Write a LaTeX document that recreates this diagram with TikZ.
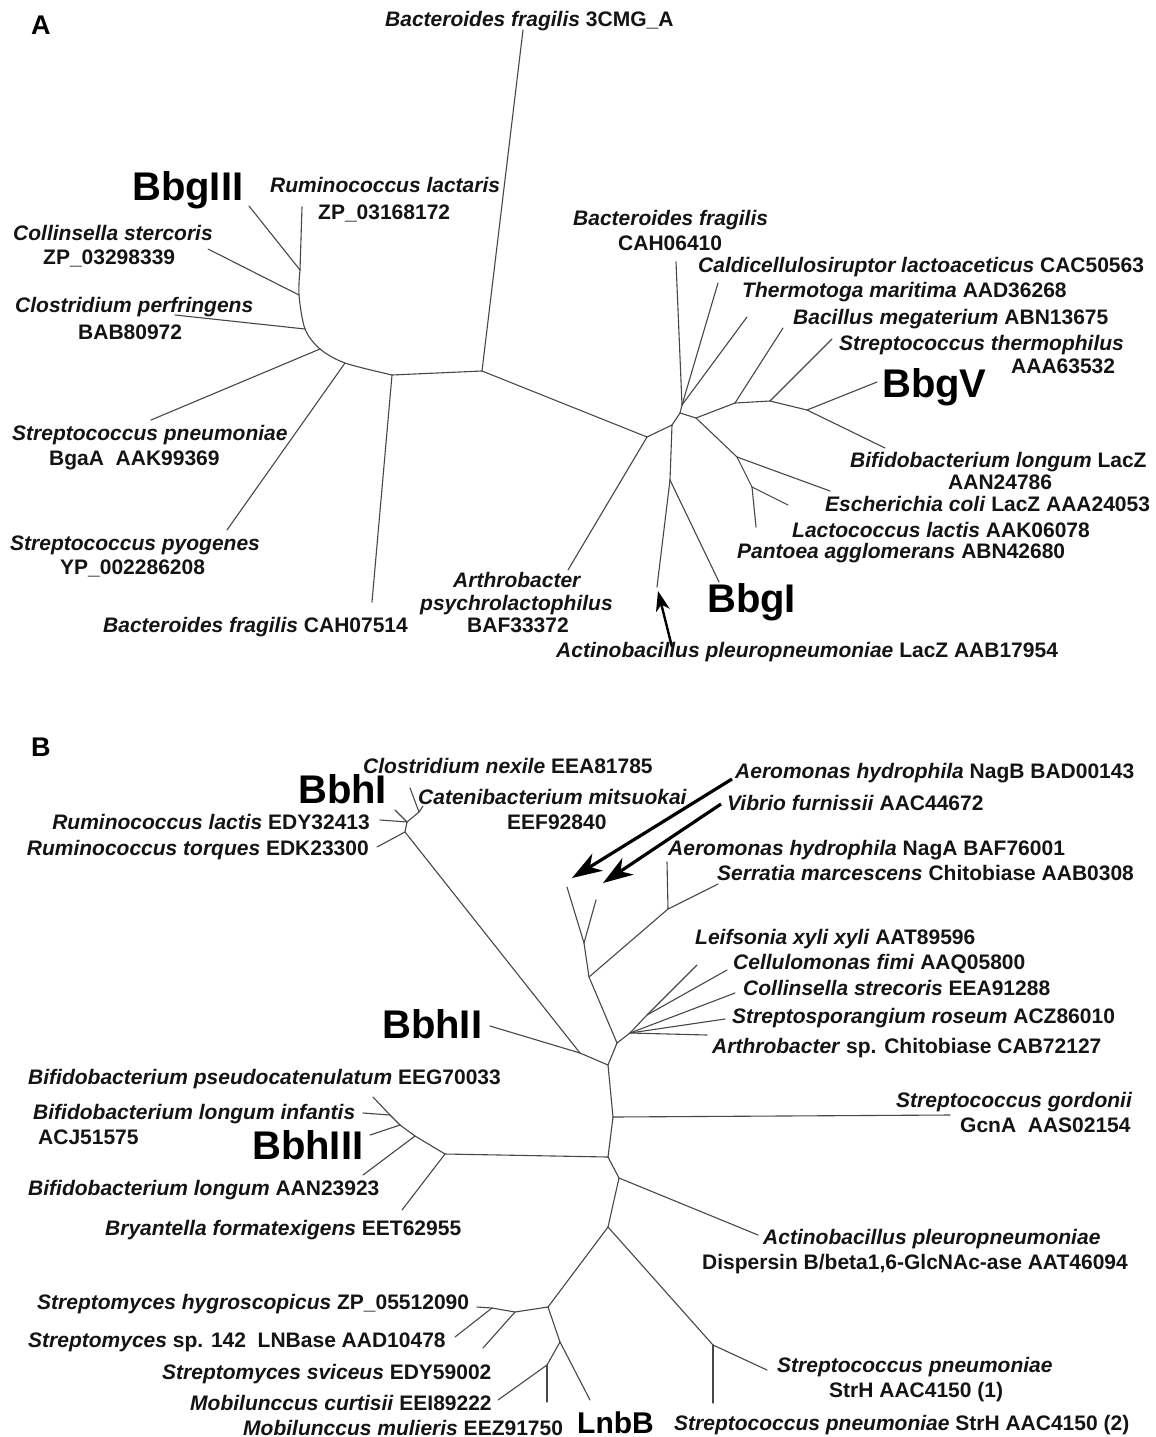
\documentclass[tikz,border=0pt]{standalone}
\usepackage{fontspec}
\setmainfont{Liberation Sans}
\usetikzlibrary{arrows.meta}
\begin{document}
\begin{tikzpicture}[x=1pt,y=-1pt,
  br/.style={line width=1.1pt, draw=black!72, line cap=round},
  lbl/.style={font=\fontsize{21}{24}\selectfont\bfseries, inner sep=0pt, anchor=base west, text=black!92},
  lble/.style={lbl, anchor=base east},
  big/.style={font=\fontsize{40}{44}\selectfont\bfseries, inner sep=0pt, anchor=base west},
  mid/.style={font=\fontsize{30}{34}\selectfont\bfseries, inner sep=0pt, anchor=base west},
  panel/.style={font=\fontsize{27}{30}\selectfont\bfseries, inner sep=0pt, anchor=base west},
  arrA/.style={line width=2.4pt, -{Stealth[length=20pt,width=14pt,inset=6pt]}},
  arrB/.style={line width=3.2pt, -{Stealth[length=30pt,width=20pt,inset=9pt]}}
]
\useasboundingbox[fill=white] (0,0) rectangle (1156,1437);

%%%%%%%%%%%%%%%% Panel A %%%%%%%%%%%%%%%%
\node[panel] (pA) at (31,35) {A};
% internal points
\coordinate (p0) at (300,270);
\coordinate (p1) at (299,295);
\coordinate (p2) at (305,329);
\coordinate (p3) at (320,349);
\coordinate (p4) at (345,363);
\coordinate (p5) at (392,375);
\coordinate (p6) at (482,371);
\coordinate (q0) at (647,437);
\coordinate (q1) at (672,425);
\coordinate (q2) at (680,413);
\coordinate (q3) at (682,405);
\coordinate (r1) at (696,418);
\coordinate (r2) at (735,403);
\coordinate (r3) at (770,401);
\coordinate (r4) at (807,410);
\coordinate (s1) at (737,457);
\coordinate (s2) at (752,487);
\coordinate (t1) at (670,480);
% leaves
\coordinate (lRl) at (302,207);
\coordinate (lB3) at (249,206);
\coordinate (lCs) at (208,249);
\coordinate (lCp) at (175,315);
\coordinate (lSpn) at (151,420);
\coordinate (lSpy) at (227,530);
\coordinate (lBf1) at (372,602);
\coordinate (l3c) at (523,30);
\coordinate (lArt) at (568,570);
\coordinate (lBf2) at (676,262);
\coordinate (lCal) at (718,283);
\coordinate (lThe) at (747,317);
\coordinate (lBac) at (783,328);
\coordinate (lSth) at (832,339);
\coordinate (lBbgV) at (877,382);
\coordinate (lBif) at (885,448);
\coordinate (lEco) at (830,491);
\coordinate (lLac) at (788,505);
\coordinate (lPan) at (756,527);
\coordinate (lBbgI) at (719,582);
\coordinate (lAct) at (657,587);
% branches
\draw[br] (p0) -- (lRl);
\draw[br] (p0) -- (lB3);
\draw[br] plot[smooth] coordinates {(p0) (p1) (p2) (p3) (p4) (p5)};
\draw[br] (p1) -- (lCs);
\draw[br] (p2) -- (lCp);
\draw[br] (p3) -- (lSpn);
\draw[br] (p4) -- (lSpy);
\draw[br] (p5) -- (lBf1);
\draw[br] (p5) -- (p6);
\draw[br] (p6) -- (l3c);
\draw[br] (p6) -- (q0);
\draw[br] (q0) -- (lArt);
\draw[br] (q0) -- (q1);
\draw[br] (q1) -- (q2);
\draw[br] (q2) -- (q3);
\draw[br] (q3) -- (lBf2);
\draw[br] (q3) -- (lCal);
\draw[br] (q3) -- (lThe);
\draw[br] (q2) -- (r1);
\draw[br] (r1) -- (r2);
\draw[br] (r2) -- (lBac);
\draw[br] (r2) -- (r3);
\draw[br] (r3) -- (lSth);
\draw[br] (r3) -- (r4);
\draw[br] (r4) -- (lBbgV);
\draw[br] (r4) -- (lBif);
\draw[br] (r1) -- (s1);
\draw[br] (s1) -- (lEco);
\draw[br] (s1) -- (s2);
\draw[br] (s2) -- (lLac);
\draw[br] (s2) -- (lPan);
\draw[br] (q1) -- (t1);
\draw[br] (t1) -- (lBbgI);
\draw[br] (t1) -- (lAct);
% arrow
\coordinate (aA1) at (672,647);
\coordinate (aA2) at (658,591);
\draw[arrA] (aA1) -- (aA2);
% labels
\node[lbl] (n3c) at (385,27) {\textit{Bacteroides fragilis} 3CMG\_A};
\node[big] (nBbgIII) at (132,200) {BbgIII};
\node[lbl] (nRl1) at (270,192) {\textit{Ruminococcus lactaris}};
\node[lbl] (nRl2) at (318,219) {ZP\_03168172};
\node[lbl] (nCs1) at (13,240) {\textit{Collinsella stercoris}};
\node[lbl] (nCs2) at (43,264) {ZP\_03298339};
\node[lbl] (nCp1) at (15,312) {\textit{Clostridium perfringens}};
\node[lbl] (nCp2) at (78,339) {BAB80972};
\node[lbl] (nSpn1) at (12,440) {\textit{Streptococcus pneumoniae}};
\node[lbl] (nSpn2) at (49,465) {BgaA~~AAK99369};
\node[lbl] (nSpy1) at (10,550) {\textit{Streptococcus pyogenes}};
\node[lbl] (nSpy2) at (60,574) {YP\_002286208};
\node[lbl] (nBf1) at (103,632) {\textit{Bacteroides fragilis} CAH07514};
\node[lbl] (nArt1) at (453,587) {\textit{Arthrobacter}};
\node[lbl] (nArt2) at (420,610) {\textit{psychrolactophilus}};
\node[lbl] (nArt3) at (467,632) {BAF33372};
\node[lbl] (nAct) at (556,657) {\textit{Actinobacillus pleuropneumoniae} LacZ AAB17954};
\node[big] (nBbgI) at (707,612) {BbgI};
\node[lbl] (nBf2a) at (573,225) {\textit{Bacteroides fragilis}};
\node[lbl] (nBf2b) at (618,250) {CAH06410};
\node[lbl] (nCal) at (698,272) {\textit{Caldicellulosiruptor lactoaceticus} CAC50563};
\node[lbl] (nThe) at (742,297) {\textit{Thermotoga maritima} AAD36268};
\node[lbl] (nBac) at (793,324) {\textit{Bacillus megaterium} ABN13675};
\node[lbl] (nSth1) at (839,350) {\textit{Streptococcus thermophilus}};
\node[lbl] (nSth2) at (1011,373) {AAA63532};
\node[big] (nBbgV) at (882,397) {BbgV};
\node[lbl] (nBif1) at (850,467) {\textit{Bifidobacterium longum} LacZ};
\node[lbl] (nBif2) at (948,489) {AAN24786};
\node[lbl] (nEco) at (825,511) {\textit{Escherichia coli} LacZ AAA24053};
\node[lbl] (nLac) at (792,537) {\textit{Lactococcus lactis} AAK06078};
\node[lbl] (nPan) at (737,558) {\textit{Pantoea agglomerans} ABN42680};

%%%%%%%%%%%%%%%% Panel B %%%%%%%%%%%%%%%%
\node[panel] (pB) at (31,756) {B};
\coordinate (b1) at (405,832);
\coordinate (b2) at (407,822);
\coordinate (b3) at (419,812);
\coordinate (b4) at (580,1053);
\coordinate (b5) at (608,1065);
\coordinate (b6) at (617,1043);
\coordinate (b7) at (589,977);
\coordinate (b8) at (584,943);
\coordinate (b9) at (668,909);
\coordinate (f1) at (630,1033);
\coordinate (f2) at (647,1015);
\coordinate (g1) at (613,1117);
\coordinate (g2) at (608,1157);
\coordinate (g3) at (619,1178);
\coordinate (g4) at (608,1227);
\coordinate (h1) at (548,1307);
\coordinate (h2) at (515,1312);
\coordinate (h3) at (492,1308);
\coordinate (h4) at (560,1342);
\coordinate (h5) at (547,1365);
\coordinate (k1) at (713,1345);
\coordinate (c1) at (445,1154);
\coordinate (c2) at (415,1136);
\coordinate (c3) at (400,1125);
\coordinate (c4) at (390,1115);
% leaves
\coordinate (mTor) at (377,847);
\coordinate (mLac) at (380,820);
\coordinate (mX1) at (395,810);
\coordinate (mCne) at (410,788);
\coordinate (mCat) at (423,806);
\coordinate (mBbhII) at (490,1026);
\coordinate (mNagB) at (567,887);
\coordinate (mVib) at (596,900);
\coordinate (mNagA) at (667,862);
\coordinate (mSer) at (718,884);
\coordinate (mLei) at (697,965);
\coordinate (mCel) at (727,970);
\coordinate (mCol) at (735,993);
\coordinate (mSpo) at (725,1019);
\coordinate (mArb) at (707,1035);
\coordinate (mGor) at (950,1115);
\coordinate (mApl) at (758,1235);
\coordinate (mPse) at (373,1097);
\coordinate (mInf) at (363,1113);
\coordinate (mX2) at (370,1135);
\coordinate (mLon) at (363,1175);
\coordinate (mBry) at (402,1210);
\coordinate (mShy) at (477,1307);
\coordinate (mS142) at (455,1337);
\coordinate (mSsv) at (483,1348);
\coordinate (mLnb) at (590,1400);
\coordinate (mMcu) at (498,1400);
\coordinate (mMmu) at (547,1402);
\coordinate (mStr1) at (767,1370);
\coordinate (mStr2) at (713,1403);
% branches
\draw[br] (b1) -- (mTor);
\draw[br] (b1) -- (b2);
\draw[br] (b2) -- (mLac);
\draw[br] (b2) -- (mX1);
\draw[br] (b2) -- (b3);
\draw[br] (b3) -- (mCne);
\draw[br] (b3) -- (mCat);
\draw[br] (b1) -- (b4);
\draw[br] (b4) -- (mBbhII);
\draw[br] (b4) -- (b5);
\draw[br] (b5) -- (b6);
\draw[br] (b6) -- (b7);
\draw[br] (b7) -- (b8);
\draw[br] (b8) -- (mNagB);
\draw[br] (b8) -- (mVib);
\draw[br] (b7) -- (b9);
\draw[br] (b9) -- (mNagA);
\draw[br] (b9) -- (mSer);
\draw[br] (b6) -- (f1);
\draw[br] (f1) -- (f2);
\draw[br] (f2) -- (mLei);
\draw[br] (f2) -- (mCel);
\draw[br] (f1) -- (mCol);
\draw[br] (f1) -- (mSpo);
\draw[br] (f1) -- (mArb);
\draw[br] (b5) -- (g1);
\draw[br] (g1) -- (mGor);
\draw[br] (g1) -- (g2);
\draw[br] (g2) -- (c1);
\draw[br] (c1) -- (mBry);
\draw[br] (c1) -- (c2);
\draw[br] (c2) -- (mLon);
\draw[br] (c2) -- (c3);
\draw[br] (c3) -- (mX2);
\draw[br] (c3) -- (c4);
\draw[br] (c4) -- (mPse);
\draw[br] (c4) -- (mInf);
\draw[br] (g2) -- (g3);
\draw[br] (g3) -- (mApl);
\draw[br] (g3) -- (g4);
\draw[br] (g4) -- (h1);
\draw[br] (h1) -- (h2);
\draw[br] (h2) -- (h3);
\draw[br] (h3) -- (mShy);
\draw[br] (h3) -- (mS142);
\draw[br] (h2) -- (mSsv);
\draw[br] (h1) -- (h4);
\draw[br] (h4) -- (mLnb);
\draw[br] (h4) -- (h5);
\draw[br] (h5) -- (mMcu);
\draw[br] (h5) -- (mMmu);
\draw[br] (g4) -- (k1);
\draw[br] (k1) -- (mStr1);
\draw[br] (k1) -- (mStr2);
% arrows
\coordinate (aB1s) at (732,779);
\coordinate (aB1e) at (572,878);
\coordinate (aB2s) at (721,804);
\coordinate (aB2e) at (603,883);
\draw[arrB] (aB1s) -- (aB1e);
\draw[arrB] (aB2s) -- (aB2e);
% labels
\node[big] (nBbhI) at (298,803) {BbhI};
\node[lbl] (nCne) at (363,773) {\textit{Clostridium nexile} EEA81785};
\node[lbl] (nCat1) at (418,804) {\textit{Catenibacterium mitsuokai}};
\node[lbl] (nCat2) at (507,829) {EEF92840};
\node[lble] (nRlac) at (370,829) {\textit{Ruminococcus lactis} EDY32413};
\node[lble] (nRtor) at (369,855) {\textit{Ruminococcus torques} EDK23300};
\node[lbl] (nNagB) at (735,778) {\textit{Aeromonas hydrophila} NagB BAD00143};
\node[lbl] (nVib) at (727,810) {\textit{Vibrio furnissii} AAC44672};
\node[lbl] (nNagA) at (668,855) {\textit{Aeromonas hydrophila} NagA BAF76001};
\node[lbl] (nSer) at (717,880) {\textit{Serratia marcescens} Chitobiase AAB0308};
\node[lbl] (nLei) at (695,944) {\textit{Leifsonia xyli xyli} AAT89596};
\node[lbl] (nCel) at (733,969) {\textit{Cellulomonas fimi} AAQ05800};
\node[lbl] (nCol) at (743,995) {\textit{Collinsella strecoris} EEA91288};
\node[lbl] (nSpo) at (732,1023) {\textit{Streptosporangium roseum} ACZ86010};
\node[lbl] (nArb) at (712,1053) {\textit{Arthrobacter} sp. Chitobiase CAB72127};
\node[big] (nBbhII) at (382,1038) {BbhII};
\node[lbl] (nPse) at (28,1084) {\textit{Bifidobacterium pseudocatenulatum} EEG70033};
\node[lbl] (nInf1) at (33,1119) {\textit{Bifidobacterium longum infantis}};
\node[lbl] (nInf2) at (38,1144) {ACJ51575};
\node[big] (nBbhIII) at (252,1159) {BbhIII};
\node[lbl] (nLon) at (28,1195) {\textit{Bifidobacterium longum} AAN23923};
\node[lbl] (nBry) at (105,1235) {\textit{Bryantella formatexigens} EET62955};
\node[lbl] (nGor1) at (896,1107) {\textit{Streptococcus gordonii}};
\node[lbl] (nGor2) at (960,1132) {GcnA~~AAS02154};
\node[lbl] (nApl1) at (763,1244) {\textit{Actinobacillus pleuropneumoniae}};
\node[lbl] (nApl2) at (702,1269) {Dispersin B/beta1,6-GlcNAc-ase AAT46094};
\node[lbl] (nShy) at (37,1309) {\textit{Streptomyces hygroscopicus} ZP\_05512090};
\node[lbl] (nS142) at (28,1347) {\textit{Streptomyces} sp. 142~~LNBase AAD10478};
\node[lbl] (nSsv) at (162,1379) {\textit{Streptomyces sviceus} EDY59002};
\node[lbl] (nMcu) at (190,1410) {\textit{Mobilunccus curtisii} EEI89222};
\node[lbl] (nMmu) at (243,1435) {\textit{Mobilunccus mulieris} EEZ91750};
\node[mid] (nLnbB) at (577,1433) {LnbB};
\node[lbl] (nStr1a) at (777,1372) {\textit{Streptococcus pneumoniae}};
\node[lbl] (nStr1b) at (829,1397) {StrH AAC4150 (1)};
\node[lbl] (nStr2) at (674,1430) {\textit{Streptococcus pneumoniae} StrH AAC4150 (2)};
\end{tikzpicture}
\end{document}
